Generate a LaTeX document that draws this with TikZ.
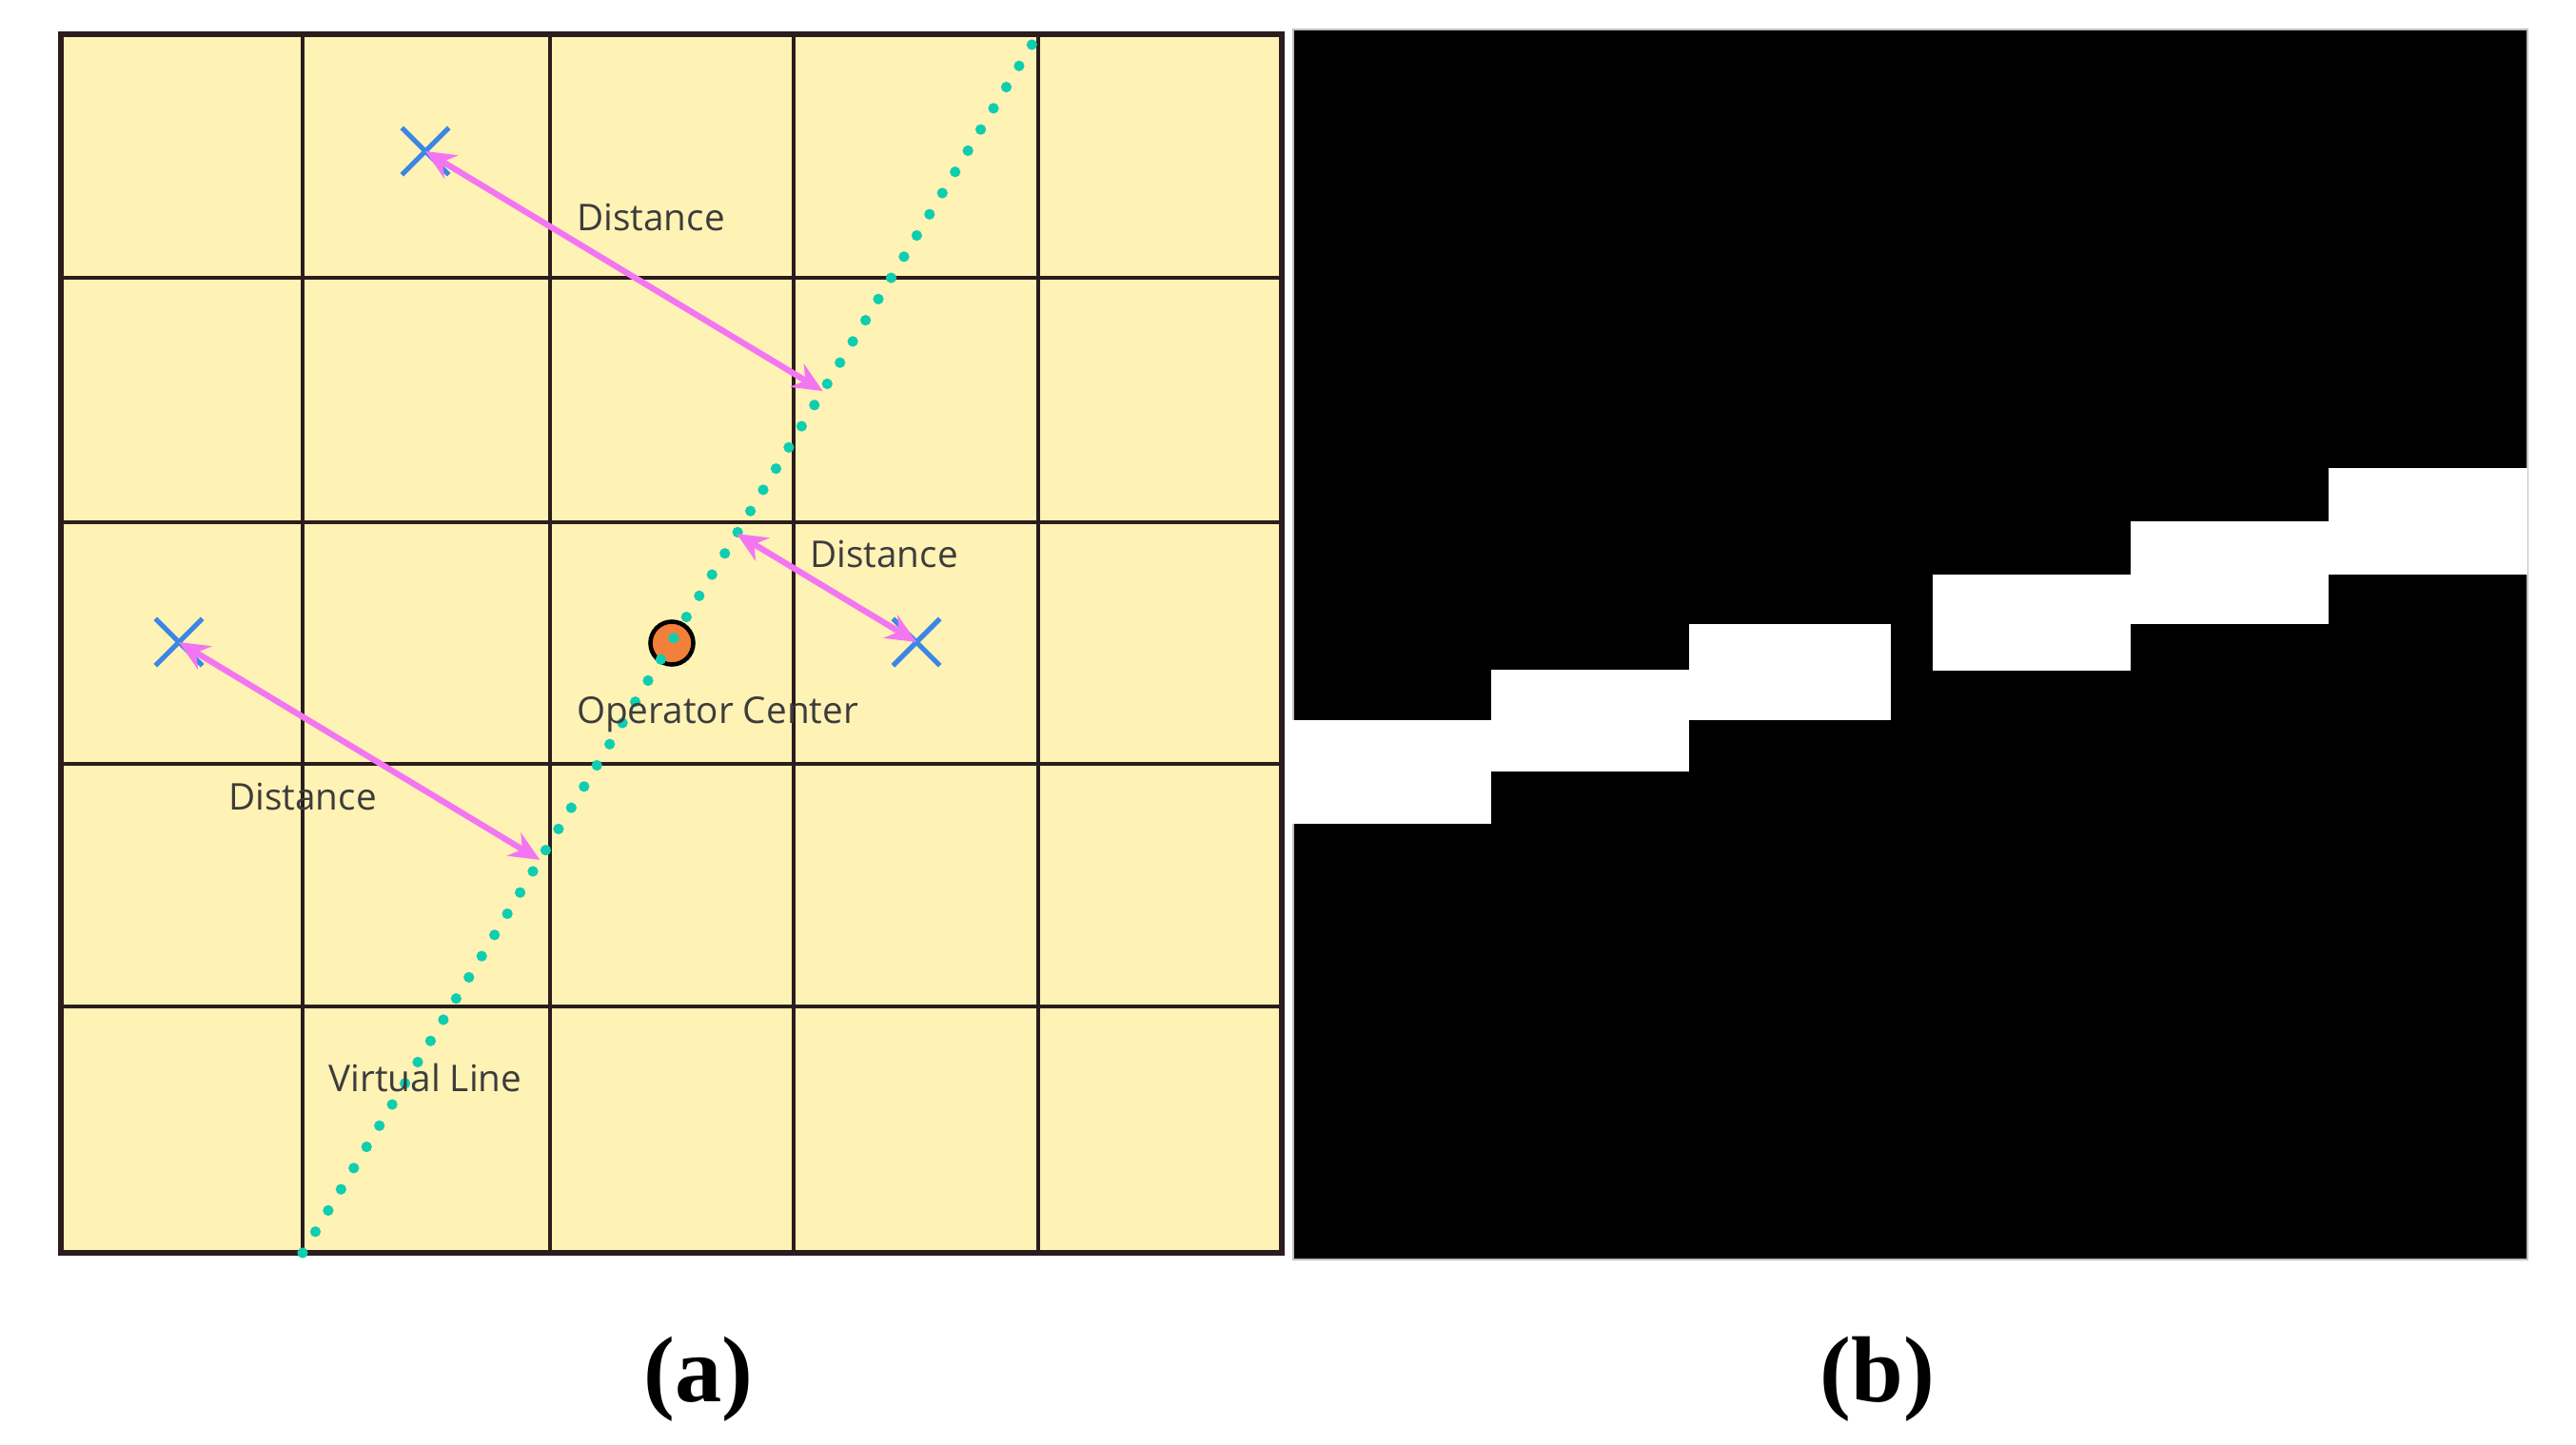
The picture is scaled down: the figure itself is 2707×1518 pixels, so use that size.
\documentclass[tikz,border=0pt]{standalone}
\usepackage{fontspec}
\setmainfont{Liberation Serif}
\newfontfamily\gridfont{Open Sans}
\usetikzlibrary{arrows.meta,calc,shapes.misc}

\definecolor{cellfill}{HTML}{FFF2B5}
\definecolor{gridline}{HTML}{2B1D1D}
\definecolor{vlinecol}{HTML}{10CDB0}
\definecolor{distpink}{HTML}{F276F2}
\definecolor{markblue}{HTML}{3C87E6}
\definecolor{centerfill}{HTML}{F2803A}
\definecolor{labelgray}{HTML}{3C3C3C}

\tikzset{
  target/.style={cross out, draw=markblue, line width=1.5pt, minimum size=0.44cm, inner sep=0pt},
  distarrow/.style={{Stealth[length=9pt,width=8pt]}-{Stealth[length=9pt,width=8pt]}, draw=distpink, line width=1.8pt},
  lbl/.style={font=\gridfont\fontsize{11}{13}\selectfont, text=labelgray, inner sep=0pt},
  virtline/.style={draw=vlinecol, line width=3.2pt, line cap=round, dash pattern=on 0pt off 7.4pt},
  capt/.style={font=\bfseries\fontsize{28}{30}\selectfont, inner sep=0pt}
}

\begin{document}
\begin{tikzpicture}[x=0.01cm,y=-0.01cm]
\useasboundingbox (0,0) rectangle (2707,1518);

% (a) grid of cells
\fill[cellfill] (64,36) rectangle (1347,1317);
\foreach \x in {318,578,834,1091}
  \draw[gridline,line width=1.4pt] (\x,36) -- (\x,1317);
\foreach \y in {292,549,803,1058}
  \draw[gridline,line width=1.4pt] (64,\y) -- (1347,\y);
\draw[gridline,line width=1.5pt] (64,36) rectangle (1347,1317);

\coordinate (vlA) at (318,1317);
\coordinate (vlB) at (1091,36);

\node[circle,draw=black,fill=centerfill,line width=1.3pt,minimum size=0.45cm,inner sep=0pt] (oc) at (706,676) {};
\node[target] (p1) at (447,159) {};
\node[target] (p2) at (963,675) {};
\node[target] (p3) at (188,675) {};

\draw[virtline] (vlA) -- (vlB);

\draw[distarrow] (p1.center) -- ($(vlA)!(p1.center)!(vlB)$);
\draw[distarrow] ($(vlA)!(p2.center)!(vlB)$) -- (p2.center);
\draw[distarrow] (p3.center) -- ($(vlA)!(p3.center)!(vlB)$);

\node[lbl] (d1) at (684,228) {Distance};
\node[lbl] (d2) at (929,582) {Distance};
\node[lbl] (d3) at (318,837) {Distance};
\node[lbl] (ocl) at (754,751) {Operator Center};
\node[lbl] (vll) at (447,1133) {Virtual Line};

% (b) binary mask
\fill[black] (1359,31) rectangle (2656,1324);
\draw[gray!50,line width=0.8pt] (1359,31) rectangle (2656,1324);
\foreach \xa/\ya/\xb/\yb in {1355/757/1567/866, 1567/704/1775/811, 1775/656/1987/757,
                              2031/604/2239/705, 2239/548/2447/656, 2447/492/2656/604}
  \fill[white] (\xa,\ya) rectangle (\xb,\yb);

\node[capt] (capa) at (734,1450) {(a)};
\node[capt] (capb) at (1973,1450) {(b)};
\end{tikzpicture}
\end{document}
